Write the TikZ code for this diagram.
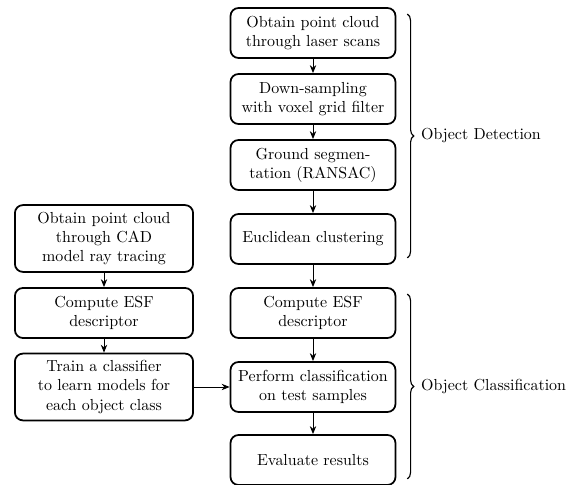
\documentclass[tikz,border=0pt]{standalone}
\usepackage{tikz}
\usetikzlibrary{arrows.meta,positioning,calc,decorations.pathreplacing}

\begin{document}
\begin{tikzpicture}[
    x=0.022cm, y=-0.022cm,
    etapa/.style={draw=black, rounded corners=5pt, fill=white, line width=1.1pt, align=center, inner sep=2pt, minimum height=1.1cm},
    seta/.style={-{Stealth[length=5pt, width=4pt]}, line width=0.6pt},
    chave/.style={decorate, decoration={brace, amplitude=4pt}, line width=0.7pt}
]

  \useasboundingbox (0,0) rectangle (572,485);

  % =========================================================================
  % COLUNA DA DIREITA - DETECÇÃO
  % =========================================================================
  \node[etapa, minimum width=3.63cm] (laser_scan) at (313, 33) {Obtain point cloud\\through laser scans};
  \node[etapa, minimum width=3.63cm] (voxel_grid) at (313, 99) {Down-sampling\\with voxel grid filter};
  \node[etapa, minimum width=3.63cm] (ransac) at (313, 165) {Ground segmen-\\tation (RANSAC)};
  \node[etapa, minimum width=3.63cm] (clustering) at (313, 239) {Euclidean clustering};

  % =========================================================================
  % COLUNA DA DIREITA - CLASSIFICAÇÃO
  % =========================================================================
  \node[etapa, minimum width=3.63cm] (esf_test) at (313, 313) {Compute ESF\\descriptor};
  \node[etapa, minimum width=3.63cm] (classify) at (313, 387) {Perform classification\\on test samples};
  \node[etapa, minimum width=3.63cm] (evaluate) at (313, 460) {Evaluate results};

  % =========================================================================
  % COLUNA DA ESQUERDA - TREINO
  % =========================================================================
  \node[etapa, minimum width=3.92cm, minimum height=1.47cm] (cad_model) at (104, 238.5) {Obtain point cloud\\through CAD\\model ray tracing};
  \node[etapa, minimum width=3.92cm] (esf_train) at (104, 313) {Compute ESF\\descriptor};
  \node[etapa, minimum width=3.92cm, minimum height=1.47cm] (train) at (104, 387) {Train a classifier\\to learn models for\\each object class};

  % Setas
  \draw[seta] (laser_scan) -- (voxel_grid);
  \draw[seta] (voxel_grid) -- (ransac);
  \draw[seta] (ransac) -- (clustering);
  \draw[seta] (clustering) -- (esf_test);
  \draw[seta] (esf_test) -- (classify);
  \draw[seta] (classify) -- (evaluate);
  \draw[seta] (cad_model) -- (esf_train);
  \draw[seta] (esf_train) -- (train);
  \draw[seta] (train) -- (classify);

  % =========================================================================
  % CHAVES
  % =========================================================================
  \coordinate (det_top) at ($(laser_scan.north east)+(11,7)$);
  \coordinate (det_bot) at ($(clustering.south east)+(11,-7)$);
  \coordinate (cls_top) at ($(esf_test.north east)+(11,7)$);
  \coordinate (cls_bot) at ($(evaluate.south east)+(11,-7)$);

  \draw[chave] (det_top) -- (det_bot) node[midway, anchor=west, xshift=5pt] {Object Detection};
  \draw[chave] (cls_top) -- (cls_bot) node[midway, anchor=west, xshift=5pt] {Object Classification};

\end{tikzpicture}
\end{document}
